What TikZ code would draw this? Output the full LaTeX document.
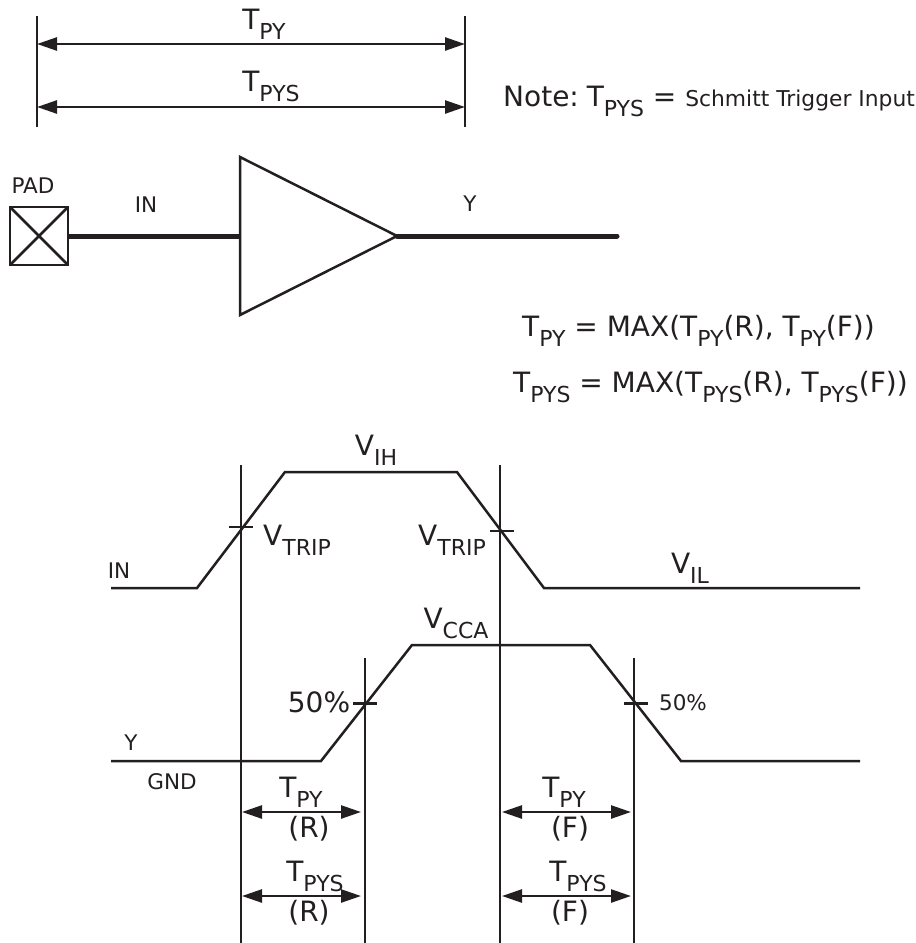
\documentclass[tikz,border=0pt]{standalone}
\usepackage{xcolor}
\usepackage{fontspec}
\setmainfont{DejaVu Sans}
\usetikzlibrary{arrows.meta}
\definecolor{ink}{HTML}{231f20}
\tikzset{
  guide/.style={draw=ink, line width=1.3pt},
  dimline/.style={draw=ink, line width=2.5pt, {Triangle[length=20pt,width=13pt]}-{Triangle[length=20pt,width=13pt]}},
  wave/.style={draw=ink, line width=2.5pt, line join=miter},
  wire/.style={draw=ink, line width=5pt},
  body/.style={draw=ink, line width=2.5pt},
  lbl/.style={text=ink, inner sep=0pt, font=\fontsize{28}{30}\selectfont},
  small/.style={text=ink, inner sep=0pt, font=\fontsize{21.5}{24}\selectfont}
}
\newcommand{\tsub}[2]{#1\raisebox{-0.36em}{\fontsize{22}{24}\selectfont #2}}
\begin{document}
\begin{tikzpicture}[x=1pt, y=-1pt]
      \useasboundingbox (0,0) rectangle (916,943);

      % top dimensions
      \coordinate (topL1) at (37,16);
      \coordinate (topL2) at (37,127);
      \coordinate (topR1) at (465,16);
      \coordinate (topR2) at (465,127);
      \coordinate (pyL) at (37,44);
      \coordinate (pyR) at (465,44);
      \coordinate (pysL) at (37,107);
      \coordinate (pysR) at (465,107);
      \draw[guide] (topL1) -- (topL2);
      \draw[guide] (topR1) -- (topR2);
      \draw[dimline] (pyL) -- (pyR);
      \draw[dimline] (pysL) -- (pysR);
      \node[lbl] (tpy) at (264,24) {\tsub{T}{PY}};
      \node[lbl] (tpys) at (271,86) {\tsub{T}{PYS}};
      \node[lbl, anchor=west] (note) at (503,101) {Note:\hspace{-4pt} \tsub{T}{PYS} = \fontsize{21.8}{24}\selectfont Schmitt Trigger Input};

      % buffer
      \coordinate (padNW) at (10,207);
      \coordinate (padSE) at (68,265);
      \coordinate (padNE) at (68,207);
      \coordinate (padSW) at (10,265);
      \coordinate (padE) at (68,236);
      \coordinate (bufIn) at (240,236);
      \coordinate (bufTop) at (240,157);
      \coordinate (bufBot) at (240,315);
      \coordinate (bufOut) at (397,236);
      \coordinate (wireEnd) at (617,236);
      \draw[wire] (padE) -- (bufIn);
      \draw[wire, line cap=round] (bufOut) -- (wireEnd);
      \draw[body] (padNW) rectangle (padSE);
      \draw[body] (padNW) -- (padSE);
      \draw[body] (padNE) -- (padSW);
      \draw[body, line join=miter] (bufTop) -- (bufOut) -- (bufBot) -- cycle;
      \node[small] (pad) at (33,186) {PAD};
      \node[small] (inwire) at (146,205) {IN};
      \node[small] (ywire) at (470,204) {Y};

      % equations
      \node[lbl, anchor=west] (eqpy) at (522,331) {\tsub{T}{PY} = MAX(\tsub{T}{PY}(R), \tsub{T}{PY}(F))};
      \node[lbl, anchor=west] (eqpys) at (513,387) {\tsub{T}{PYS} = MAX(\tsub{T}{PYS}(R), \tsub{T}{PYS}(F))};

      % waveforms
      \draw[wave] (111,588) coordinate (inA) -- (197,588) -- (285,472) -- (457,472) -- (544,588) -- (860,588) coordinate (inB);
      \draw[wave] (111,761) coordinate (yA) -- (321,761) -- (412,645) -- (590,645) -- (681,761) -- (860,761) coordinate (yB);

      % vertical guides and crossings
      \foreach \gx/\gy in {241/465, 500/465, 365/658, 634/658} {
        \draw[guide] (\gx,\gy) -- (\gx,943);
      }
      \foreach \tx/\ty in {241/527, 502/531, 365/703.5, 636/703.5} {
        \draw[wave] (\tx-12,\ty) -- (\tx+12,\ty);
      }
      \node[lbl] (vih) at (376,450) {\tsub{V}{IH}};
      \node[lbl] (trip1) at (297,540) {\tsub{V}{TRIP}};
      \node[lbl] (trip2) at (452,540) {\tsub{V}{TRIP}};
      \node[lbl] (vil) at (690,568) {\tsub{V}{IL}};
      \node[lbl] (vcca) at (456,623) {\tsub{V}{CCA}};
      \node[lbl] (p50a) at (319,702) {50\%};
      \node[small] (p50b) at (683,703) {50\%};
      \node[small] (inwave) at (119,571) {IN};
      \node[small] (ywave) at (131,743) {Y};
      \node[small] (gnd) at (172,782) {GND};

      % delay arrows
      \foreach \ay in {812, 896} {
        \draw[dimline] (242,\ay) -- (361,\ay);
        \draw[dimline] (502,\ay) -- (631,\ay);
      }
      \node[lbl] (tr1) at (301,792) {\tsub{T}{PY}};
      \node[lbl] (tf1) at (564,792) {\tsub{T}{PY}};
      \node[lbl] (tr2) at (315,876) {\tsub{T}{PYS}};
      \node[lbl] (tf2) at (578,876) {\tsub{T}{PYS}};
      \node[lbl] (r1) at (309,829) {(R)};
      \node[lbl] (f1) at (570,829) {(F)};
      \node[lbl] (r2) at (309,913) {(R)};
      \node[lbl] (f2) at (570,913) {(F)};

    \end{tikzpicture}
\end{document}
